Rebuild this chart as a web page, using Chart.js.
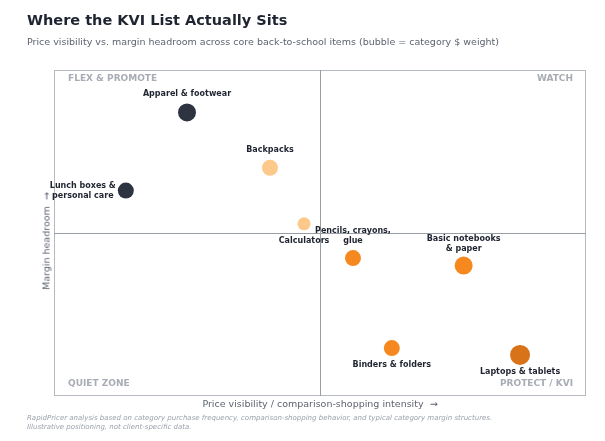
<!DOCTYPE html>
<html><head><meta charset="utf-8">
<script src="https://cdn.jsdelivr.net/npm/chart.js@4/dist/chart.umd.min.js"></script>
<style>
body{margin:0;width:605px;height:441px;position:relative;background:#fff;font-family:"DejaVu Sans",sans-serif;overflow:hidden}
#t{position:absolute;left:27px;top:12px;font-size:14.5px;font-weight:bold;color:#1f2430}
#s{position:absolute;left:27px;top:36px;font-size:9.5px;color:#5d6370}
#xt{position:absolute;left:54px;width:532px;top:398px;text-align:center;font-size:9.5px;color:#5d6370}
#yt{position:absolute;left:46px;top:241px;font-size:9.5px;color:#5d6370;transform:translate(-50%,-50%) rotate(-90deg);white-space:nowrap}
#f{position:absolute;left:27px;top:414px;font-size:7px;font-style:italic;color:#9aa0aa;line-height:9px}
#c{position:absolute;left:0;top:0}
</style></head><body>
<canvas id="c" width="605" height="441"></canvas>
<div id="t">Where the KVI List Actually Sits</div>
<div id="s">Price visibility vs. margin headroom across core back-to-school items (bubble = category $ weight)</div>
<div id="xt">Price visibility / comparison-shopping intensity &nbsp;→</div>
<div id="yt">Margin headroom &nbsp;→</div>
<div id="f">RapidPricer analysis based on category purchase frequency, comparison-shopping behavior, and typical category margin structures.<br>Illustrative positioning, not client-specific data.</div>
<script>
const labels=[["Apparel & footwear"],["Backpacks"],["Lunch boxes &","personal care"],["Calculators"],["Pencils, crayons,","glue"],["Basic notebooks","& paper"],["Binders & folders"],["Laptops & tablets"]];
const visibility=[2.5,4.06,1.35,4.7,5.62,7.7,6.35,8.76];
const margin=[8.7,7.0,6.3,5.28,4.23,4.0,1.47,1.26];
const weight=[9,8,8,6.5,8,9,8,10];
const colors=["#2d3340","#fdc98a","#2d3340","#fdc98a","#f5891f","#f5891f","#f5891f","#d9731a"];
// label placement: [dx, dy of first line, align]
const place=[[0,-18,"center"],[0,-18,"center"],[-43,-5,"center"],[0,17,"center"],[0,-27,"center"],[0,-27,"center"],[0,17,"center"],[0,17,"center"]];
const quadrants=[["FLEX & PROMOTE","left","top"],["WATCH","right","top"],["QUIET ZONE","left","bottom"],["PROTECT / KVI","right","bottom"]];
const deco={id:"deco",beforeDatasetsDraw(ch){const {ctx,chartArea:a,scales:{x,y}}=ch;ctx.save();
ctx.strokeStyle="#b5b9c0";ctx.lineWidth=1;ctx.strokeRect(a.left+.5,a.top+.5,a.width-1,a.height-1);
ctx.strokeStyle="#9a9ea6";ctx.beginPath();const cx=Math.round(x.getPixelForValue(5))+.5,cy=Math.round(y.getPixelForValue(5))+.5;
ctx.moveTo(cx,a.top);ctx.lineTo(cx,a.bottom);ctx.moveTo(a.left,cy);ctx.lineTo(a.right,cy);ctx.stroke();
ctx.font="bold 9px 'DejaVu Sans'";ctx.fillStyle="#a8acb4";
quadrants.forEach(([t,h,v])=>{ctx.textAlign=h;ctx.textBaseline="middle";ctx.fillText(t,h=="left"?a.left+14:a.right-13,v=="top"?a.top+9:a.bottom-12);});
ctx.restore();},
afterDatasetsDraw(ch){const {ctx}=ch;const m=ch.getDatasetMeta(0);ctx.save();ctx.font="bold 8px 'DejaVu Sans'";ctx.fillStyle="#1f2430";ctx.textBaseline="middle";
m.data.forEach((p,i)=>{const [dx,dy,al]=place[i];ctx.textAlign=al;labels[i].forEach((l,k)=>ctx.fillText(l,p.x+dx,p.y+dy+k*10));});ctx.restore();}};
new Chart(document.getElementById("c"),{type:"bubble",
data:{datasets:[{data:visibility.map((v,i)=>({x:v,y:margin[i],r:weight[i]})),backgroundColor:colors,borderWidth:0}]},
options:{responsive:false,animation:false,layout:{padding:{left:54,top:70,right:19,bottom:45}},
plugins:{legend:{display:false},tooltip:{enabled:false}},
scales:{x:{min:0,max:10,display:false},y:{min:0,max:10,display:false}}},plugins:[deco]});
</script></body></html>
